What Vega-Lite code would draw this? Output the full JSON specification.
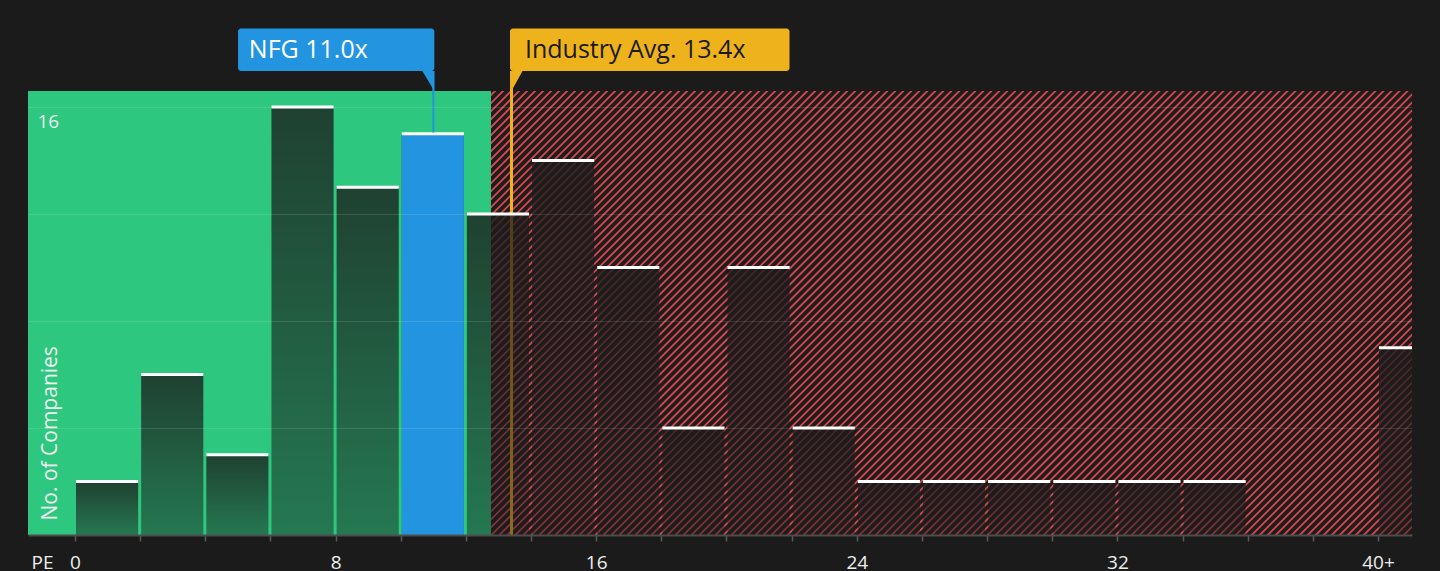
{
  "$schema": "https://vega.github.io/schema/vega-lite/v6.json",
  "description": "PE ratio distribution vs industry, NFG highlighted",
  "width": 1384,
  "height": 444,
  "autosize": {"type": "none"},
  "padding": {"left": 28, "top": 91, "right": 28, "bottom": 36},
  "background": "#1b1b1b",
  "config": {"view": {"stroke": null}, "font": "Open Sans"},
  "datasets": {
    "bins": [
      {"pe_low": 0, "pe_high": 2, "companies": 2},
      {"pe_low": 2, "pe_high": 4, "companies": 6},
      {"pe_low": 4, "pe_high": 6, "companies": 3},
      {"pe_low": 6, "pe_high": 8, "companies": 16},
      {"pe_low": 8, "pe_high": 10, "companies": 13},
      {"pe_low": 10, "pe_high": 12, "companies": 15},
      {"pe_low": 12, "pe_high": 14, "companies": 12},
      {"pe_low": 14, "pe_high": 16, "companies": 14},
      {"pe_low": 16, "pe_high": 18, "companies": 10},
      {"pe_low": 18, "pe_high": 20, "companies": 4},
      {"pe_low": 20, "pe_high": 22, "companies": 10},
      {"pe_low": 22, "pe_high": 24, "companies": 4},
      {"pe_low": 24, "pe_high": 26, "companies": 2},
      {"pe_low": 26, "pe_high": 28, "companies": 2},
      {"pe_low": 28, "pe_high": 30, "companies": 2},
      {"pe_low": 30, "pe_high": 32, "companies": 2},
      {"pe_low": 32, "pe_high": 34, "companies": 2},
      {"pe_low": 34, "pe_high": 36, "companies": 2},
      {"pe_low": 36, "pe_high": 38, "companies": 0},
      {"pe_low": 38, "pe_high": 40, "companies": 0},
      {"pe_low": 40, "pe_high": 42, "companies": 7}
    ],
    "markers": [
      {"key": "NFG", "pe": 11.0, "label": "NFG 11.0x"},
      {"key": "Industry", "pe": 13.4, "label": "Industry Avg. 13.4x"}
    ]
  },
  "data": {"values": [{}]},
  "layer": [
    {
      "mark": {"type": "rect", "color": "#221b1c"},
      "encoding": {
        "x": {
          "datum": 12.77,
          "type": "quantitative",
          "scale": {"domain": [-1.443, 41.044], "nice": false, "zero": false},
          "axis": {
            "values": [0, 2, 4, 6, 8, 10, 12, 14, 16, 18, 20, 22, 24, 26, 28, 30, 32, 34, 36, 38, 40],
            "labelExpr": "datum.value % 8 == 0 ? (datum.value == 40 ? '40+' : datum.label) : ''",
            "labelFontSize": 19,
            "labelColor": "#eeeeee",
            "labelBaseline": "alphabetic",
            "labelPadding": 27,
            "labelFlush": false,
            "labelOverlap": false,
            "tickColor": "#5a5a5a",
            "tickSize": 6,
            "tickWidth": 1.5,
            "domainColor": "#4d4d4d",
            "domainWidth": 2,
            "grid": false,
            "title": "PE",
            "titleX": 14,
            "titleY": 33.5,
            "titleAlign": "center",
            "titleBaseline": "alphabetic",
            "titleFontSize": 19,
            "titleFontWeight": "normal",
            "titleColor": "#eeeeee",
            "zindex": 1
          }
        },
        "x2": {"datum": 41.044},
        "y": {
          "datum": 0,
          "type": "quantitative",
          "scale": {"domain": [0, 16.6], "nice": false, "zero": false},
          "axis": {
            "values": [4, 8, 12, 16],
            "grid": true,
            "gridColor": "#ffffff",
            "gridOpacity": 0.12,
            "ticks": false,
            "domain": false,
            "labelExpr": "datum.value == 16 ? '16' : ''",
            "labelAlign": "left",
            "labelBaseline": "alphabetic",
            "labelPadding": -9,
            "labelOffset": 20,
            "labelFontSize": 19,
            "labelColor": "#eeeeee",
            "title": "No. of Companies",
            "titleAngle": 270,
            "titleAlign": "left",
            "titleBaseline": "alphabetic",
            "titleX": 28.5,
            "titleY": 429,
            "titleFontSize": 21,
            "titleFontWeight": "normal",
            "titleColor": "#eeeeee",
            "zindex": 1
          }
        },
        "y2": {"datum": 16.6}
      }
    },
    {
      "mark": {"type": "rule", "stroke": "#d04b4f", "strokeWidth": 1500, "strokeDash": [1.8, 3.86], "clip": true},
      "encoding": {
        "x": {"datum": 9.716, "type": "quantitative"},
        "y": {"datum": 29.234, "type": "quantitative"},
        "x2": {"datum": 44.098},
        "y2": {"datum": -12.636}
      }
    },
    {
      "mark": {"type": "rect", "color": "#2dc77f"},
      "encoding": {
        "x": {"datum": -1.443, "type": "quantitative"},
        "x2": {"datum": 12.77},
        "y": {"datum": 0, "type": "quantitative"},
        "y2": {"datum": 16.6}
      }
    },
    {
      "data": {"name": "markers"},
      "transform": [{"filter": "datum.key == 'Industry'"}],
      "mark": {"type": "rule", "stroke": "#eeb31c", "strokeWidth": 3},
      "encoding": {
        "x": {"field": "pe", "type": "quantitative"},
        "y": {"datum": 0, "type": "quantitative"},
        "y2": {"datum": 17.35}
      }
    },
    {
      "data": {"name": "bins"},
      "transform": [{"filter": "datum.companies > 0"}],
      "mark": {
        "type": "rect",
        "clip": true,
        "xOffset": 1,
        "x2Offset": -2,
        "fill": {
          "gradient": "linear",
          "x1": 0, "y1": 0, "x2": 0, "y2": 1,
          "stops": [
            {"offset": 0, "color": "rgba(27,27,27,0.78)"},
            {"offset": 1, "color": "rgba(27,27,27,0.46)"}
          ]
        }
      },
      "encoding": {
        "x": {"field": "pe_low", "type": "quantitative"},
        "x2": {"field": "pe_high"},
        "y": {"field": "companies", "type": "quantitative"},
        "y2": {"datum": 0}
      }
    },
    {
      "data": {"name": "bins"},
      "transform": [{"filter": "datum.pe_low == 10"}],
      "mark": {"type": "rect", "fill": "#2394df", "xOffset": 1, "x2Offset": -2},
      "encoding": {
        "x": {"field": "pe_low", "type": "quantitative"},
        "x2": {"field": "pe_high"},
        "y": {"field": "companies", "type": "quantitative"},
        "y2": {"datum": 0}
      }
    },
    {
      "data": {"name": "bins"},
      "transform": [{"filter": "datum.companies > 0"}],
      "mark": {"type": "rule", "stroke": "#ffffff", "strokeWidth": 3, "clip": true, "xOffset": 1, "x2Offset": -2},
      "encoding": {
        "x": {"field": "pe_low", "type": "quantitative"},
        "x2": {"field": "pe_high"},
        "y": {"field": "companies", "type": "quantitative"}
      }
    },
    {
      "data": {"name": "markers"},
      "transform": [{"filter": "datum.key == 'NFG'"}],
      "mark": {"type": "rule", "stroke": "#2394df", "strokeWidth": 2},
      "encoding": {
        "x": {"field": "pe", "type": "quantitative"},
        "y": {"datum": 15.05, "type": "quantitative"},
        "y2": {"datum": 17.35}
      }
    },
    {
      "data": {"name": "markers"},
      "transform": [{"filter": "datum.key == 'NFG'"}],
      "mark": {"type": "rect", "fill": "#2394df", "cornerRadius": 3, "xOffset": -195.3, "x2Offset": 1},
      "encoding": {
        "x": {"field": "pe", "type": "quantitative"},
        "x2": {"field": "pe"},
        "y": {"datum": 17.346, "type": "quantitative"},
        "y2": {"datum": 18.935}
      }
    },
    {
      "data": {"name": "markers"},
      "transform": [{"filter": "datum.key == 'NFG'"}],
      "mark": {"type": "point", "shape": "M-11,0L1,0L1,20Z", "size": 4, "filled": true, "fill": "#2394df", "strokeWidth": 0, "opacity": 1},
      "encoding": {
        "x": {"field": "pe", "type": "quantitative"},
        "y": {"datum": 17.346, "type": "quantitative"}
      }
    },
    {
      "data": {"name": "markers"},
      "transform": [{"filter": "datum.key == 'NFG'"}],
      "mark": {"type": "text", "align": "left", "baseline": "alphabetic", "fontSize": 25, "color": "#ffffff", "dx": -184.5},
      "encoding": {
        "x": {"field": "pe", "type": "quantitative"},
        "y": {"datum": 17.82, "type": "quantitative"},
        "text": {"field": "label"}
      }
    },
    {
      "data": {"name": "markers"},
      "transform": [{"filter": "datum.key == 'Industry'"}],
      "mark": {"type": "rect", "fill": "#eeb31c", "cornerRadius": 3, "xOffset": -1.5, "x2Offset": 278},
      "encoding": {
        "x": {"field": "pe", "type": "quantitative"},
        "x2": {"field": "pe"},
        "y": {"datum": 17.346, "type": "quantitative"},
        "y2": {"datum": 18.935}
      }
    },
    {
      "data": {"name": "markers"},
      "transform": [{"filter": "datum.key == 'Industry'"}],
      "mark": {"type": "point", "shape": "M-1.5,0L11,0L0,20L-1.5,20Z", "size": 4, "filled": true, "fill": "#eeb31c", "strokeWidth": 0, "opacity": 1},
      "encoding": {
        "x": {"field": "pe", "type": "quantitative"},
        "y": {"datum": 17.346, "type": "quantitative"}
      }
    },
    {
      "data": {"name": "markers"},
      "transform": [{"filter": "datum.key == 'Industry'"}],
      "mark": {"type": "text", "align": "left", "baseline": "alphabetic", "fontSize": 25, "color": "#1b1b1b", "dx": 13.5},
      "encoding": {
        "x": {"field": "pe", "type": "quantitative"},
        "y": {"datum": 17.82, "type": "quantitative"},
        "text": {"field": "label"}
      }
    }
  ]
}
